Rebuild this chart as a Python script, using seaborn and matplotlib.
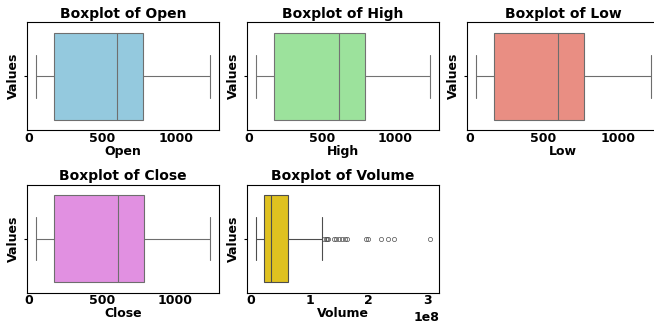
import numpy as np
import pandas as pd
import seaborn as sns
import matplotlib
matplotlib.use('Agg')
import matplotlib.pyplot as plt

columns = ['Open', 'High', 'Low', 'Close', 'Volume']
colors = ['skyblue', 'lightgreen', 'salmon', 'violet', 'gold']

# values: low whisker, Q1, median, Q3, high whisker
open_vals = [48, 172, 600, 780, 1232]
high_vals = [50, 176, 615, 792, 1240]
low_vals = [45, 168, 595, 772, 1222]
close_vals = [47, 170, 607, 785, 1235]

# volume sample in millions (box, whiskers and the outliers on the right)
volume_m = [8.5, 11, 12.5, 14, 15, 16, 17, 17.8, 18.5, 19.2, 19.8, 20.4, 21, 21.5, 22, 22.5, 23,
            23.2, 23.8, 24.5, 25.2, 26, 26.7, 27.4, 28, 28.7, 29.3, 30, 30.6, 31.3, 32, 32.6, 33.2, 33.7,
            34, 35.5, 37, 38.5, 40, 42, 44, 46, 48, 50, 52, 54, 56, 58, 60, 61.5, 62.5,
            63, 121,
            125, 127, 129.5, 132, 141, 145, 150, 155.5, 160.5, 163.5, 195, 200, 221, 234, 243, 305]

data = {
    'Open': pd.Series(open_vals, dtype=float),
    'High': pd.Series(high_vals, dtype=float),
    'Low': pd.Series(low_vals, dtype=float),
    'Close': pd.Series(close_vals, dtype=float),
    'Volume': pd.Series(volume_m, dtype=float) * 1e6,
}

sns.set_style('white')
plt.rcParams['font.family'] = ['DejaVu Sans']
plt.rcParams['font.weight'] = 'bold'
plt.rcParams['axes.labelweight'] = 'bold'
plt.rcParams['axes.titleweight'] = 'bold'
plt.rcParams['axes.linewidth'] = 0.8
plt.rcParams['axes.edgecolor'] = 'black'
plt.rcParams['text.color'] = 'black'
plt.rcParams['axes.labelcolor'] = 'black'
plt.rcParams['xtick.color'] = 'black'
plt.rcParams['ytick.color'] = 'black'
plt.rcParams['xtick.labelsize'] = 9

fig, axes = plt.subplots(2, 3, figsize=(6.54, 3.24), dpi=100)
fig.subplots_adjust(left=0.041, right=1.008, top=0.932, bottom=0.096, wspace=0.148, hspace=0.50)

for ax, col, c in zip(axes.flat, columns, colors):
    sns.boxplot(x=data[col], color=c, ax=ax, fliersize=3, linewidth=0.8,
                flierprops={'marker': 'o', 'markerfacecolor': 'none', 'markeredgewidth': 0.5})
    ax.set_title(f'Boxplot of {col}', fontsize=10, pad=3)
    ax.set_xlabel(col, fontsize=9, labelpad=0)
    ax.set_ylabel('Values', fontsize=9, labelpad=2)
    ax.tick_params(axis='x', labelsize=9, pad=1, length=0)
    ax.tick_params(axis='y', left=True, length=2, width=0.8, pad=1)

axes.flat[-1].remove()

fig.savefig('out.png', dpi=100)
